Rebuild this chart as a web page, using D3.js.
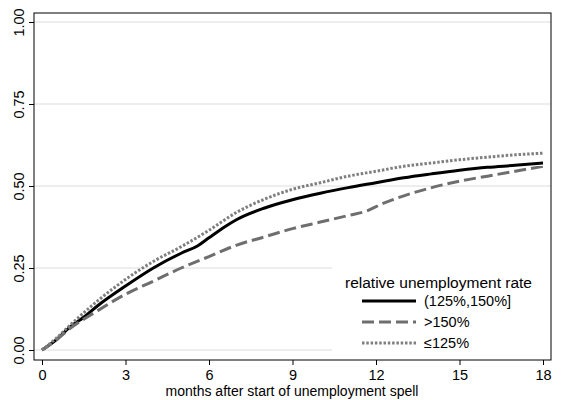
<!DOCTYPE html><html><head><meta charset="utf-8"><script src="https://cdn.jsdelivr.net/npm/d3@7"></script>
<style>body{margin:0;background:#fff}text{font-family:Arial,"Liberation Sans",sans-serif}</style></head><body><svg id="c" width="561" height="400"></svg>
<script>
const months=[0,0.5,1,1.5,2,3,4,5,5.6,6,6.5,7,8,9,10,11,12,13,14,15,16,17,18];
const mid=[0,0.03,0.07,0.10,0.135,0.195,0.25,0.295,0.318,0.342,0.372,0.398,0.433,0.458,0.478,0.495,0.51,0.525,0.537,0.548,0.557,0.563,0.57];
const monthsHigh=[0,0.5,1,2,3,4,5,6,7,8,9,10,11,11.7,12.2,13,14,15,16,17,18];
const high=[0,0.03,0.065,0.12,0.17,0.21,0.25,0.285,0.32,0.345,0.37,0.39,0.41,0.425,0.445,0.47,0.495,0.515,0.53,0.545,0.56];
const monthsLow=[0,0.5,1,2,3,4,5,6,7,8,9,10,11,12,13,14,15,16,17,18];
const low=[0,0.035,0.075,0.15,0.215,0.27,0.315,0.365,0.42,0.46,0.49,0.51,0.53,0.545,0.56,0.57,0.58,0.588,0.595,0.60];
const xTicks=[0,3,6,9,12,15,18], yTicks=[0,0.25,0.5,0.75,1];
const labels=["(125%,150%]",">150%","≤125%"];
const svg=d3.select("#c");
const x=d3.scaleLinear().domain([0,18]).range([42,543]);
const y=d3.scaleLinear().domain([0,1]).range([350,22]);
svg.append("g").selectAll("line").data(yTicks).join("line").attr("x1",34).attr("x2",551).attr("y1",d=>y(d)).attr("y2",d=>y(d)).attr("stroke","#dcdcdc").attr("stroke-width",1);
const series=[{xs:months,ys:mid,c:"#000",w:3,da:null},{xs:monthsHigh,ys:high,c:"#6e6e6e",w:3,da:"12,5"},{xs:monthsLow,ys:low,c:"#7f7f7f",w:3,da:"2.5,1.8"}];
const line=d3.line().curve(d3.curveMonotoneX);
series.forEach(s=>svg.append("path").attr("d",line(s.xs.map((m,i)=>[x(m),y(s.ys[i])]))).attr("fill","none").attr("stroke",s.c).attr("stroke-width",s.w).attr("stroke-dasharray",s.da));
svg.append("rect").attr("x",332).attr("y",264).attr("width",219).attr("height",88).attr("fill","#fff");
svg.append("rect").attr("x",34).attr("y",13).attr("width",517).attr("height",347).attr("fill","none").attr("stroke","#000").attr("stroke-width",1);
svg.append("g").attr("transform","translate(0,360)").call(d3.axisBottom(x).tickValues(xTicks).tickSize(5).tickSizeOuter(0)).call(g=>{g.select(".domain").remove();g.selectAll("text").attr("font-size",14.5).attr("fill","#000").attr("dy","0.85em");});
const ya=svg.append("g").attr("transform","translate(34,0)").call(d3.axisLeft(y).tickValues(yTicks).tickFormat(d3.format(".2f")).tickSize(5).tickSizeOuter(0));
ya.select(".domain").remove();
ya.selectAll(".tick text").attr("font-size",14.5).attr("fill","#000").attr("x",0).attr("y",0).attr("dy",0).attr("text-anchor","middle").attr("transform","translate(-10,0) rotate(-90)");
svg.append("text").attr("x",292).attr("y",396).attr("text-anchor","middle").attr("font-size",14).text("months after start of unemployment spell");
svg.append("text").attr("x",345).attr("y",288).attr("font-size",15.5).text("relative unemployment rate");
series.forEach((s,i)=>{const yy=301+i*21;svg.append("line").attr("x1",362).attr("x2",416).attr("y1",yy).attr("y2",yy).attr("stroke",s.c).attr("stroke-width",s.w).attr("stroke-dasharray",s.da);svg.append("text").attr("x",424).attr("y",yy+5).attr("font-size",14.5).text(labels[i]);});
</script></body></html>
